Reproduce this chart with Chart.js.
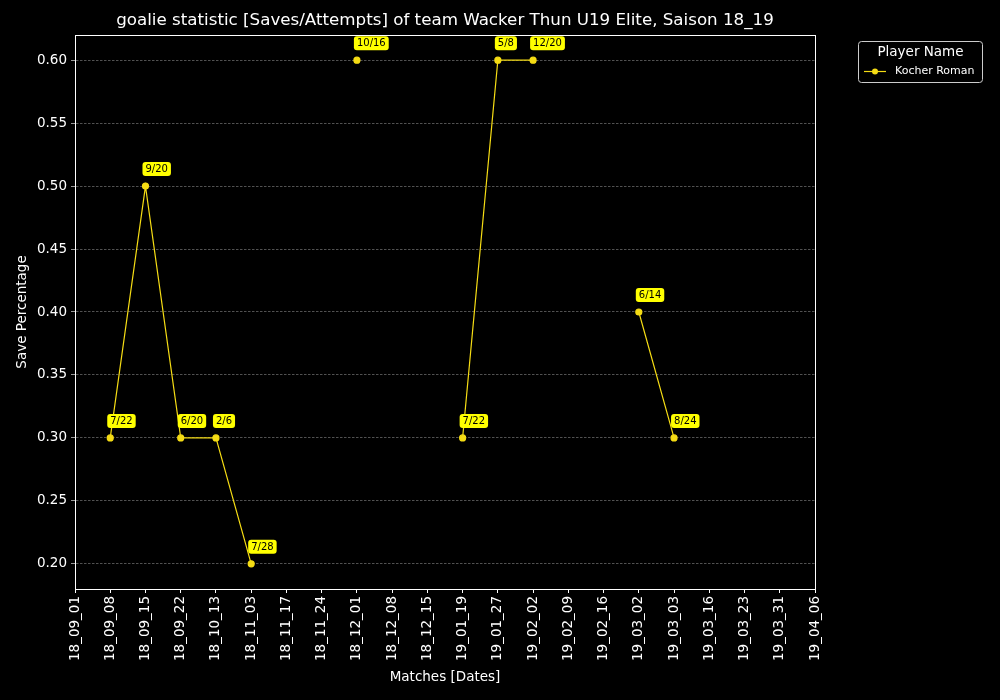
<!DOCTYPE html>
<html>
<head>
<meta charset="utf-8">
<script src="https://cdn.jsdelivr.net/npm/chart.js@4/dist/chart.umd.min.js"></script>
<style>
  html, body { margin: 0; padding: 0; background: #000; }
</style>
</head>
<body>
<canvas id="grafico" width="1000" height="700"></canvas>
<script>
const datas = ['18_09_01', '18_09_08', '18_09_15', '18_09_22', '18_10_13', '18_11_03', '18_11_17',
  '18_11_24', '18_12_01', '18_12_08', '18_12_15', '19_01_19', '19_01_27', '19_02_02', '19_02_09',
  '19_02_16', '19_03_02', '19_03_03', '19_03_16', '19_03_23', '19_03_31', '19_04_06']
const percentual = [null, 0.30, 0.50, 0.30, 0.30, 0.20, null, null, 0.60, null, null, 0.30, 0.60, 0.60,
  null, null, 0.40, 0.30, null, null, null, null]
const rotulos = [null, '7/22', '9/20', '6/20', '2/6', '7/28', null, null, '10/16', null, null, '7/22', '5/8', '12/20',
  null, null, '6/14', '8/24', null, null, null, null]
const yTicks = [0.20, 0.25, 0.30, 0.35, 0.40, 0.45, 0.50, 0.55, 0.60]
const jogador = 'Kocher Roman'

const amarelo = '#f5dc14'
const fonte = 'DejaVu Sans'

// caixinhas amarelas com "defesas/chutes" + moldura + titulo + legenda
const extras = {
  id: 'extras',
  afterDatasetsDraw(chart) {
    const c = chart.ctx
    const meta = chart.getDatasetMeta(0)
    c.save()
    c.font = '10px "' + fonte + '"'
    c.textBaseline = 'middle'
    meta.data.forEach((p, i) => {
      if (!rotulos[i] || percentual[i] === null) return
      const w = c.measureText(rotulos[i]).width + 6
      const h = 14
      const x = p.x - 3
      const y = p.y - 17 - h / 2
      c.fillStyle = '#ffff00'
      c.beginPath()
      c.roundRect(x, y, w, h, 3)
      c.fill()
      c.fillStyle = '#000'
      c.fillText(rotulos[i], x + 3, y + h / 2 + 0.5)
    })
    c.restore()
  },
  afterDraw(chart) {
    const c = chart.ctx
    const a = chart.chartArea
    c.save()
    c.strokeStyle = '#fff'
    c.lineWidth = 1
    c.strokeRect(Math.round(a.left) + 0.5, Math.round(a.top) + 0.5, Math.round(a.right - a.left), Math.round(a.bottom - a.top))

    // titulo
    c.fillStyle = '#fff'
    c.font = '16.7px "' + fonte + '"'
    c.textAlign = 'center'
    c.textBaseline = 'middle'
    c.fillText('goalie statistic [Saves/Attempts] of team Wacker Thun U19 Elite, Saison 18_19', (a.left + a.right) / 2, 21)

    // legenda
    const lx = 858.5, ly = 41.5, lw = 124, lh = 41
    c.strokeStyle = '#ccc'
    c.beginPath()
    c.roundRect(lx, ly, lw, lh, 3)
    c.stroke()
    c.font = '13.5px "' + fonte + '"'
    c.fillText('Player Name', lx + lw / 2, ly + 11)
    c.strokeStyle = amarelo
    c.lineWidth = 1.2
    c.beginPath()
    c.moveTo(864, ly + 30)
    c.lineTo(886, ly + 30)
    c.stroke()
    c.fillStyle = amarelo
    c.beginPath()
    c.arc(875, ly + 30, 3, 0, Math.PI * 2)
    c.fill()
    c.fillStyle = '#fff'
    c.font = '11px "' + fonte + '"'
    c.textAlign = 'left'
    c.fillText(jogador, 895, ly + 30)
    c.restore()
  }
}

const ctx = document.getElementById('grafico')
let grafico = new Chart(ctx, {
  type: 'line',
  data: {
    labels: datas,
    datasets: [{
      label: jogador,
      data: percentual,
      borderColor: amarelo,
      backgroundColor: amarelo,
      borderWidth: 1.2,
      pointRadius: 3,
      pointHoverRadius: 3,
      spanGaps: false,
      tension: 0
    }]
  },
  options: {
    responsive: false,
    animation: false,
    devicePixelRatio: 1,
    layout: { padding: { top: 35, right: 185, left: 0, bottom: 0 } },
    plugins: {
      legend: { display: false },
      title: { display: false },
      tooltip: { enabled: false }
    },
    scales: {
      x: {
        offset: false,
        grid: { drawOnChartArea: false, tickColor: '#fff', tickLength: 4 },
        border: { color: '#fff' },
        ticks: { color: '#fff', font: { family: fonte, size: 13.5 }, minRotation: 90, maxRotation: 90, autoSkip: false, padding: 3 },
        title: { display: true, text: 'Matches [Dates]', color: '#fff', font: { family: fonte, size: 13.5 }, padding: { top: 0, bottom: 14 } },
        afterFit(s) { s.height = 111 }
      },
      y: {
        min: 0.18,
        max: 0.62,
        grid: { color: '#888', lineWidth: 0.6, tickColor: '#fff', tickLength: 4, tickBorderDash: [] },
        border: { color: '#fff', dash: [2.5, 1.5] },
        ticks: { color: '#fff', font: { family: fonte, size: 13.5 }, padding: 4, callback: v => v.toFixed(2) },
        afterBuildTicks(s) { s.ticks = yTicks.map(v => ({ value: v })) },
        title: { display: true, text: 'Save Percentage', color: '#fff', font: { family: fonte, size: 13.5 }, padding: { top: 14, bottom: 0 } },
        afterFit(s) { s.width = 75 }
      }
    }
  },
  plugins: [extras]
})
</script>
</body>
</html>
